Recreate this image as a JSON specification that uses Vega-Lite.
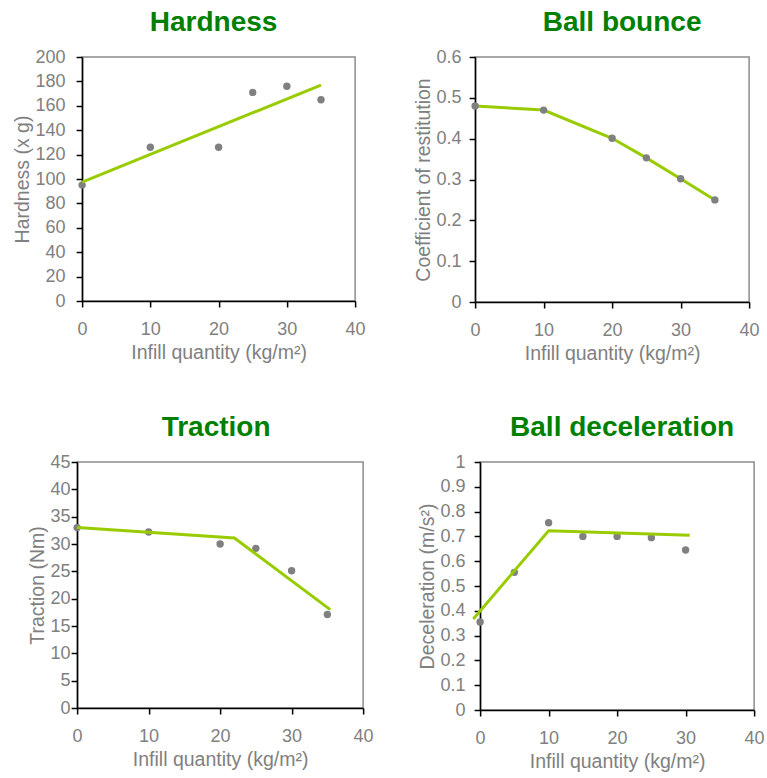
{
  "$schema": "https://vega.github.io/schema/vega-lite/v6.json",
  "padding": {"left": 11, "top": 8, "right": 5, "bottom": 5},
  "background": "white",
  "datasets": {
    "hard_pts": [{"x": 0, "y": 95}, {"x": 10, "y": 126}, {"x": 20, "y": 126}, {"x": 25, "y": 171}, {"x": 30, "y": 176}, {"x": 35, "y": 165}],
    "hard_fit": [{"x": 0, "y": 97.5}, {"x": 35, "y": 177}],
    "bounce_pts": [{"x": 0, "y": 0.48}, {"x": 10, "y": 0.47}, {"x": 20, "y": 0.401}, {"x": 25, "y": 0.353}, {"x": 30, "y": 0.302}, {"x": 35, "y": 0.25}],
    "trac_pts": [{"x": 0, "y": 33}, {"x": 10, "y": 32.2}, {"x": 20, "y": 30}, {"x": 25, "y": 29.2}, {"x": 30, "y": 25.1}, {"x": 35, "y": 17.1}],
    "trac_fit": [{"x": 0, "y": 33}, {"x": 22, "y": 31.1}, {"x": 35.4, "y": 18}],
    "dec_pts": [{"x": 0, "y": 0.355}, {"x": 5, "y": 0.555}, {"x": 10, "y": 0.755}, {"x": 15, "y": 0.7}, {"x": 20, "y": 0.7}, {"x": 25, "y": 0.695}, {"x": 30, "y": 0.645}],
    "dec_fit": [{"x": -1, "y": 0.367}, {"x": 10, "y": 0.723}, {"x": 30.6, "y": 0.705}]
  },
  "config": {
    "font": "Liberation Sans",
    "view": {"stroke": "#8c8c8c", "strokeWidth": 1.5},
    "axis": {
      "grid": false,
      "domainColor": "#000000",
      "domainWidth": 1.5,
      "tickColor": "#000000",
      "tickWidth": 1.5,
      "tickSize": 6,
      "labelFont": "Liberation Sans",
      "labelFontSize": 18,
      "labelColor": "#808080",
      "labelFlush": false,
      "labelOverlap": false,
      "titleFont": "Liberation Sans",
      "titleFontSize": 19.5,
      "titleFontWeight": "normal",
      "titleColor": "#808080"
    },
    "axisX": {"labelPadding": 13, "titlePadding": 5},
    "axisY": {"labelPadding": 9, "titlePadding": 3},
    "title": {"font": "Liberation Sans", "fontSize": 28, "fontWeight": "bold", "color": "#008000", "offset": 11, "anchor": "middle"}
  },
  "center": true,
  "spacing": 49,
  "vconcat": [
    {
      "spacing": 46,
      "hconcat": [
        {
          "title": {"text": "Hardness", "dx": -5},
          "width": 273, "height": 244,
          "layer": [
            {
              "data": {"name": "hard_pts"},
              "mark": {"type": "point", "filled": true, "size": 55, "color": "#808080", "opacity": 1},
              "encoding": {
                "x": {"field": "x", "type": "quantitative", "scale": {"domain": [0, 40]}, "axis": {"values": [0, 10, 20, 30, 40], "labelOverlap": false, "title": "Infill quantity (kg/m²)"}},
                "y": {"field": "y", "type": "quantitative", "scale": {"domain": [0, 200]}, "axis": {"values": [0, 20, 40, 60, 80, 100, 120, 140, 160, 180, 200], "labelOverlap": false, "labelPadding": 11, "tickCount": 11, "title": "Hardness (x g)"}}
              }
            },
            {
              "data": {"name": "hard_fit"},
              "mark": {"type": "line", "color": "#99cc00", "strokeWidth": 3},
              "encoding": {
                "x": {"field": "x", "type": "quantitative"},
                "y": {"field": "y", "type": "quantitative"}
              }
            }
          ]
        },
        {
          "title": {"text": "Ball bounce", "dx": 10},
          "width": 274, "height": 245,
          "layer": [
            {
              "data": {"name": "bounce_pts"},
              "mark": {"type": "line", "color": "#99cc00", "strokeWidth": 3},
              "encoding": {
                "x": {"field": "x", "type": "quantitative", "scale": {"domain": [0, 40]}, "axis": {"values": [0, 10, 20, 30, 40], "labelOverlap": false, "title": "Infill quantity (kg/m²)"}},
                "y": {"field": "y", "type": "quantitative", "scale": {"domain": [0, 0.6]}, "axis": {"values": [0, 0.1, 0.2, 0.3, 0.4, 0.5, 0.6], "labelOverlap": false, "labelPadding": 8, "tickCount": 7, "format": ".1~f", "title": "Coefficient of restitution"}}
              }
            },
            {
              "data": {"name": "bounce_pts"},
              "mark": {"type": "point", "filled": true, "size": 55, "color": "#808080", "opacity": 1},
              "encoding": {
                "x": {"field": "x", "type": "quantitative"},
                "y": {"field": "y", "type": "quantitative"}
              }
            }
          ]
        }
      ]
    },
    {
      "spacing": 42,
      "hconcat": [
        {
          "title": {"text": "Traction", "dx": -4},
          "width": 286, "height": 246,
          "layer": [
            {
              "data": {"name": "trac_pts"},
              "mark": {"type": "point", "filled": true, "size": 55, "color": "#808080", "opacity": 1},
              "encoding": {
                "x": {"field": "x", "type": "quantitative", "scale": {"domain": [0, 40]}, "axis": {"values": [0, 10, 20, 30, 40], "labelOverlap": false, "title": "Infill quantity (kg/m²)"}},
                "y": {"field": "y", "type": "quantitative", "scale": {"domain": [0, 45]}, "axis": {"values": [0, 5, 10, 15, 20, 25, 30, 35, 40, 45], "labelOverlap": false, "labelPadding": 1, "tickCount": 10, "title": "Traction (Nm)"}}
              }
            },
            {
              "data": {"name": "trac_fit"},
              "mark": {"type": "line", "color": "#99cc00", "strokeWidth": 3},
              "encoding": {
                "x": {"field": "x", "type": "quantitative"},
                "y": {"field": "y", "type": "quantitative"}
              }
            }
          ]
        },
        {
          "title": {"text": "Ball deceleration", "dx": 5},
          "width": 274, "height": 248,
          "layer": [
            {
              "data": {"name": "dec_pts"},
              "mark": {"type": "point", "filled": true, "size": 55, "color": "#808080", "opacity": 1},
              "encoding": {
                "x": {"field": "x", "type": "quantitative", "scale": {"domain": [0, 40]}, "axis": {"values": [0, 10, 20, 30, 40], "labelOverlap": false, "title": "Infill quantity (kg/m²)"}},
                "y": {"field": "y", "type": "quantitative", "scale": {"domain": [0, 1]}, "axis": {"values": [0, 0.1, 0.2, 0.3, 0.4, 0.5, 0.6, 0.7, 0.8, 0.9, 1], "labelOverlap": false, "tickCount": 11, "format": ".1~f", "title": "Deceleration (m/s²)"}}
              }
            },
            {
              "data": {"name": "dec_fit"},
              "mark": {"type": "line", "color": "#99cc00", "strokeWidth": 3},
              "encoding": {
                "x": {"field": "x", "type": "quantitative"},
                "y": {"field": "y", "type": "quantitative"}
              }
            }
          ]
        }
      ]
    }
  ]
}
